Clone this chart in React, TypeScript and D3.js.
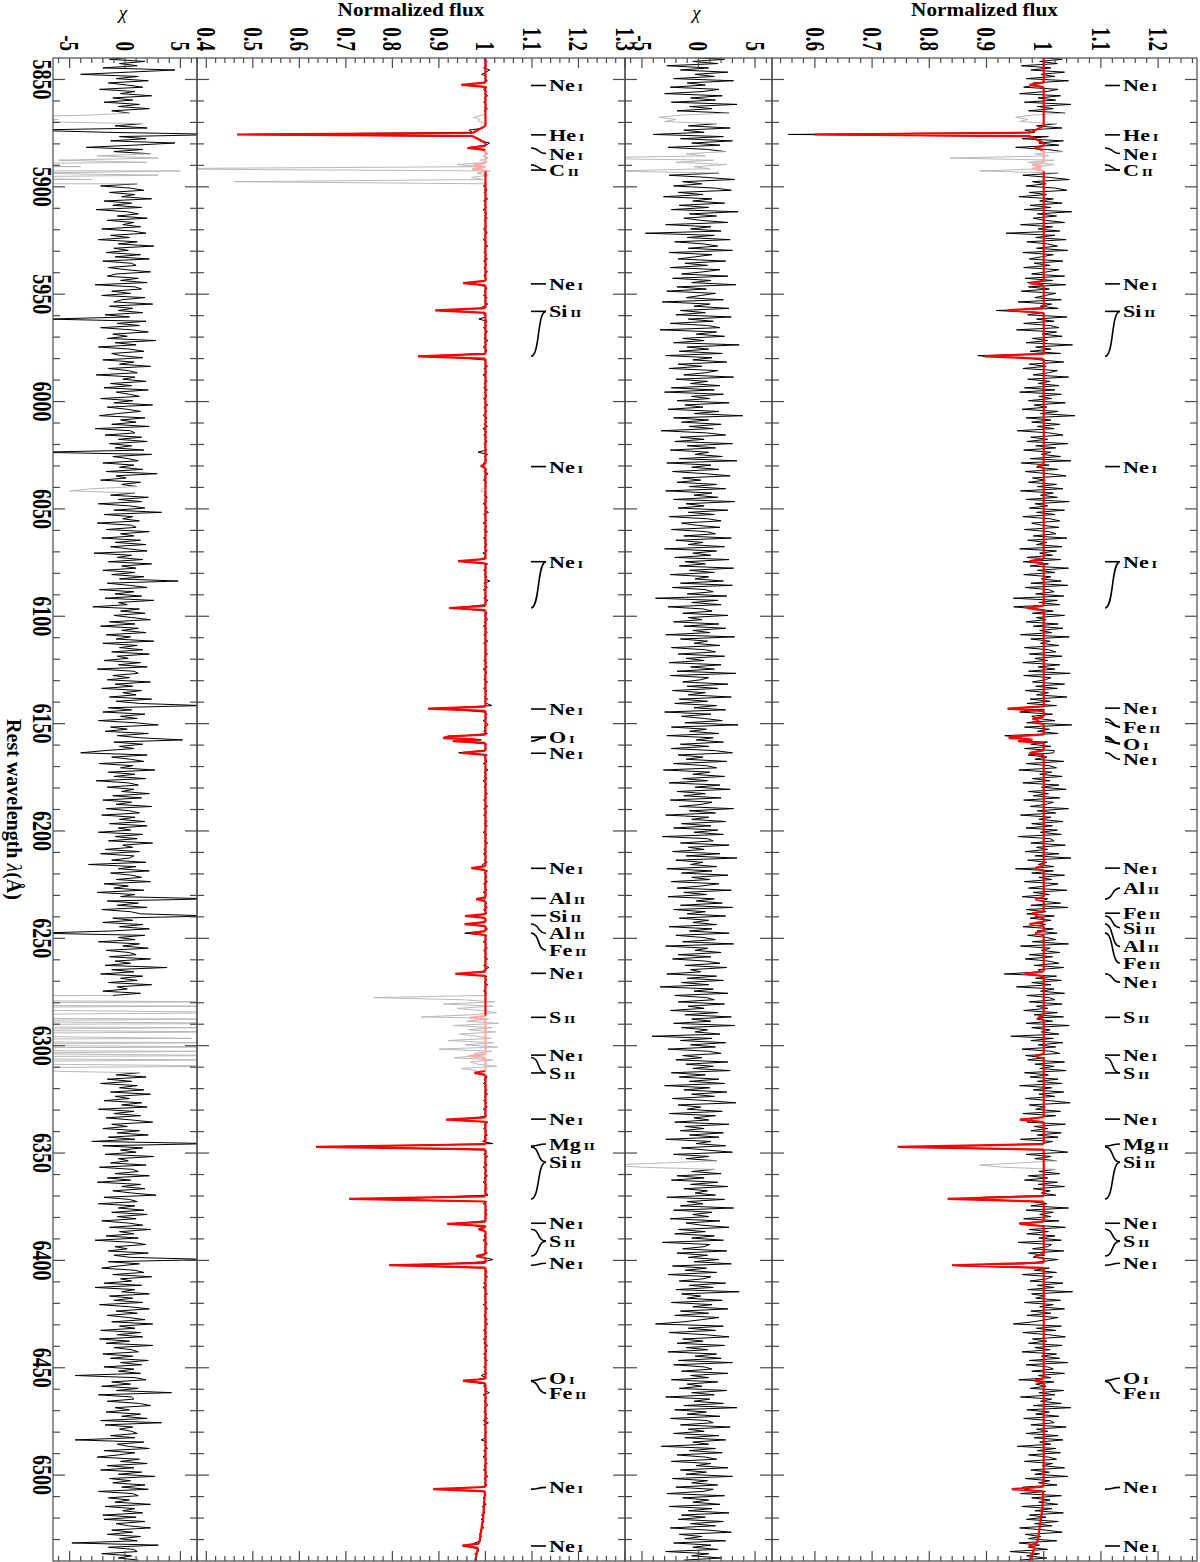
import * as d3 from 'd3';
import { useRef, useEffect } from 'react';

// residual samples (chi) on a regular 1 Å wavelength grid
const gridStart = 5839.6;
const gridStep = 1;

const chiStar1 = [
  0.6, -1.4, 1.8, -0.5, 1.1, -2.0, 4.5, 0.3, -4.0, 1.2, -0.8, 2.1, -1.5, 0.2, 1.6, -2.3, 0.9, -0.4, 2.4, -1.1,
  0.7, -1.9, 1.3, -0.6, 2.2, -1.2, 0.4, -3.0, -13, -6, -8, 1.5, -0.9, 2.0, -9, -1.7, 9, -0.5, 1.9, -1.3,
  4.5, 0.8, -3.5, 1.6, -1.0, 2.3, -2.5, 3.0, -6, 2.0, -20, -4, -371, 5, -9, 3, -15, -3, -270, 1.1,
  -2.2, 0.5, 1.7, -1.4, 0.9, -0.3, 2.4, -1.9, 0.6, -1.1, 1.5, -2.6, 0.2, 1.2, -0.7, 2.0, -1.6, 0.8, -0.2, 1.4,
  -2.1, 0.7, 1.9, -1.3, 0.4, -2.4, 1.1, -0.6, 2.6, -1.0, 0.3, -1.7, 1.4, -0.9, 2.2, -2.0, 0.6, 1.0, -1.5, 0.1,
  2.3, -0.8, -1.6, 1.2, -0.4, 2.0, -2.7, 0.9, 1.5, -1.2, 0.5, -2.1, 1.8, -0.3, -1.0, 2.5, -1.4, 0.7, -0.6, 1.6,
  -1.8, 0.4, -7.0, 1.9, -0.7, 1.3, -2.2, 0.6, 2.1, -1.1, 0.2, -1.6, 2.8, -0.9, 1.0, -2.4, 0.5, 1.7, -1.2, -0.4,
  1.6, -2.0, 0.8, -0.5, 2.3, -1.5, 0.3, 1.1, -2.6, 0.9, -0.2, 1.9, -1.3, 0.6, -1.9, 2.1, -0.8, 0.4, 1.3, -2.2,
  0.7, -1.0, 2.5, -1.6, 0.2, 1.4, -0.7, -2.3, 1.8, -0.4, 1.0, -1.2, 2.2, -2.7, 0.5, 0.9, -1.8, 1.5, -0.6, 2.0,
  -1.4, 0.6, -0.9, 1.7, -8.0, 2.4, -1.1, 0.3, 1.2, -2.0, 0.8, -0.5, 1.6, -1.7, 2.9, -0.8, 0.1, -2.2, 1.4, -0.3,
  1.1, -3.0, -5.0, 0.9, -1.3, 2.1, -0.6, 1.5, -2.4, 0.4, 1.8, -1.0, 3.3, -1.9, 0.7, -0.2, 1.3, -2.5, 0.6, 1.0,
  -1.7, 2.2, -0.4, 0.8, -2.1, 1.4, -0.9, 1.9, -1.3, 0.3, 2.0, -2.8, 0.6, -0.7, 1.6, -1.5, 2.4, -0.3, 1.0, -2.0,
  0.9, -1.2, 1.7, -0.5, 4.8, -1.6, 0.4, 2.0, -2.3, 0.8, -0.9, 1.5, -1.8, 2.6, -0.6, 0.2, -2.9, 1.3, -0.4, 1.8,
  -1.0, 0.6, 2.3, -1.4, 0.9, -2.2, 1.2, -0.3, 1.9, -1.7, 0.5, -0.8, 2.6, -2.0, 1.1, -0.5, 1.6, -1.2, 2.2, -0.7,
  0.3, -1.9, 1.4, -0.6, 2.0, -2.5, 0.8, 1.2, -1.1, 0.4, -1.6, 2.3, -0.9, 0.7, -2.1, 1.5, -0.2, 1.0, -1.4, 2.4,
  -0.8, 1.3, 7.0, -1.5, 0.6, -2.0, 1.8, -0.4, 1.1, -2.4, 0.9, 3.0, -1.3, 0.2, -1.8, 2.1, -0.7, 1.4, 5.2, -1.0,
  1.6, -0.5, 0.8, -1.9, -4.0, 2.0, -1.2, 0.5, 1.7, -2.3, 0.7, -0.4, 2.7, -1.5, 0.9, -1.0, 1.9, -2.6, 0.3, 1.2,
  -1.6, 0.8, -0.3, 2.2, -1.1, 1.5, -2.0, 0.6, -0.8, 2.4, -1.7, 0.4, 1.3, -2.1, 0.9, -0.5, 1.8, -1.4, 2.0, -0.6,
  0.5, -2.4, 1.6, -0.9, 1.1, -1.5, 2.5, -0.2, 0.7, -1.8, 1.3, -2.2, 0.8, 0.4, -1.2, 1.9, -3.3, 1.0, -0.6, 2.2,
  -1.3, 0.6, 1.5, -0.8, 2.3, -1.9, 0.3, -1.0, 1.7, -2.5, 0.9, -0.4, 8.0, -1.6, 1.2, -0.7, 2.0, -2.1, 0.5, 1.4,
  8.0, -1.1, 0.7, -2.0, 1.6, -0.5, 2.2, -1.3, -8.0, 1.8, -0.6, 0.9, -2.4, 1.3, -0.2, 2.1, -1.7, 0.4, 1.0, -1.4,
  2.3, -0.9, 0.5, -1.8, 3.8, -1.2, 0.8, -2.2, 1.6, -0.4, 1.1, -1.5, 2.4, -0.7, 0.2, -2.0, 1.4, -1.1, -120, -25,
  10, -45, 8, -30, -6, 12, -15, -60, 9, -20, 14, -35, 7, -18, 11, -28, -10, 6, -40, 9,
  -22, 13, -50, 7, -12, 10, -32, 8, -16, -8, 12, -26, -10, 1.3, -0.8, 1.9, -1.6, 0.6, -2.2, 1.1,
  -0.5, 1.7, -1.3, 2.3, -0.9, 0.4, -1.9, 1.5, -0.3, 2.0, -2.4, 0.8, -1.0, 1.4, -1.7, 0.6, 2.5, -1.2, 0.2, -2.0,
  1.3, -0.7, 2.1, -1.5, 0.9, -3.0, 8.0, -2.0, 1.6, -0.4, 1.0, -1.8, 2.6, -0.6, 0.3, -1.3, 1.9, -2.3, 0.7, 1.2,
  -0.9, 2.2, -1.6, 0.5, -2.5, 1.4, -0.3, 1.8, -1.1, 0.6, 2.8, -1.9, 0.4, 1.1, -2.4, 0.9, -0.6, 1.7, -1.2, 2.0,
  -0.7, 1.0, -2.1, 0.3, 1.6, -1.4, 2.3, -0.5, 0.8, -1.7, 1.2, -2.7, 0.6, 1.9, -0.9, 0.2, -1.5, 2.1, -1.0, 0.5,
  8.0, -1.5, 1.3, -0.6, -2.1, 0.9, 1.7, -1.1, 2.4, -0.4, 0.6, -1.9, 1.5, -2.7, 0.9, -0.3, 2.2, -1.4, 0.7, -1.0,
  1.6, -2.3, 0.4, 2.2, -0.8, 1.1, -1.6, 0.3, 1.8, -1.2, 2.5, -0.5, 0.9, -2.2, 1.4, -0.7, 1.6, -2.3, 0.4, -1.7,
  2.5, -1.0, 0.6, 1.2, -2.0, 0.7, -1.3, 2.1, -0.4, 1.5, -1.9, 0.8, -0.6, 1.4, -4.5, 0.9, 1.9, -1.2, 0.5, -2.1,
  1.2, -0.8, 4.2, -2.4, 0.6, 0.8, -1.6, 1.3, 2.3, -0.9, 0.4, -1.7, 1.4, -0.3, 2.0, -2.2, 3.3, -1.8, 0.7, -0.5,
  0.6, 1.1, -1.3, 0.9, -4.5, 1.7, -0.7, 0.3, 2.2, -1.9, 0.9, -0.6, -2.5, 1.3, -0.4, 2.0, -1.6, 0.8, -2.2, 1.5,
  -0.6, 2.7, -1.4, 0.5, -1.1, 1.8, -0.3, 2.1, -2.4, 0.7, 1.2, -1.5, 0.4, -0.9, 2.3, -1.8, 0.9, -0.2, 1.6, -2.0,
  1.0, -1.9, 1.8, -0.8, 0.3, 2.3, -1.2, 0.7, -1.6, 1.4, -0.5, 1.1, -4.8, 3.0, -1.5, 0.8, 1.1, -2.1, 0.6, -0.6,
  1.2,
];

const chiStar2 = [
  -1.2, 2.3, -0.5, 1.7, -2.8, 0.9, -1.6, 2.6, -0.3, 1.4, -2.2, 3.1, -1.0, 0.6, -2.5, 1.8, 0.4, -3.0, 2.1, -0.7,
  1.5, -2.4, 3.4, -0.8, 1.2, -1.9, 2.7, -1.5, -3.5, -2.0, -3.0, 1.6, -0.9, 2.8, -1.3, 0.5, -4.0, 2.2, -1.6, 3.0,
  -0.6, 1.9, -2.7, 0.8, 2.4, -1.1, 0.6, -11.7, 1.3, -2.0, 2.5, -0.4, 1.0, -8.0, 1.8, -2.6, 0.7, 3.2, -1.4, 0.3,
  -2.2, 1.5, 2.9, -1.8, 0.4, -3.1, 1.2, -0.5, 2.3, -1.7, 0.9, -2.4, 3.5, -0.8, 1.6, -1.3, 0.2, 2.6, -2.9, 1.1,
  -0.7, 2.0, -4.7, 1.4, -1.0, 2.8, -2.1, 0.5, 1.7, -0.9, 3.0, -2.6, 1.2, -0.3, -1.8, 2.4, -1.2, 0.8, -2.5, 1.9,
  0.4, -1.5, 2.6, -2.3, 1.1, -0.6, 3.3, -1.9, 0.7, -2.8, 1.5, 0.2, -1.1, 2.2, -3.2, 1.0, -0.4, 2.7, -1.6, 0.6,
  -2.0, 2.9, -0.9, 1.3, -2.5, 0.8, 1.9, -3.4, 1.6, -0.2, 2.3, -1.4, 0.5, -2.2, 3.6, -1.0, 0.9, -1.7, 2.1, -2.9,
  1.2, -0.5, 2.5, -1.8, 0.3, -2.6, 1.7, 0.6, -1.3, 3.1, -2.0, 0.8, -0.7, 1.9, -2.4, 1.4, -3.0, 2.2, -0.6, 1.0,
  -1.9, 2.7, -1.2, 0.4, -2.7, 1.8, -0.4, 3.9, -2.2, 0.9, -1.5, 2.0, -0.8, 1.3, -3.3, 0.7, 2.4, -1.6, 0.5, -2.1,
  3.0, -1.0, 1.5, -2.5, 0.9, -0.3, 2.1, -1.7, 3.4, -2.8, 1.1, -0.6, 1.8, -2.3, 0.6, 2.8, -1.4, 0.2, -1.9, 1.6,
  -0.8, 2.4, -2.9, 1.2, -0.4, 1.7, -2.2, 3.2, -1.1, 0.5, -1.8, 2.6, -0.9, 1.4, -2.6, 0.8, 2.0, -1.5, -0.2, 1.9,
  -2.4, 0.7, 1.5, -1.3, 2.9, -2.0, 0.4, -0.9, 2.3, -3.0, 1.6, -0.5, 1.1, -2.1, 2.7, -1.2, 0.6, -1.7, 3.1, -0.8,
  1.4, -2.5, 0.9, -0.3, 2.2, -1.6, 3.0, -2.3, 0.6, 1.3, -1.0, 2.5, -3.8, 1.7, -0.6, 2.0, -2.7, 0.4, 1.2, -1.4,
  2.6, -0.9, 0.3, -2.2, 1.8, -1.3, 2.4, -0.5, 1.0, -2.9, 3.2, -1.6, 0.8, -0.4, 1.9, -2.4, 0.6, 1.5, -1.8, 2.3,
  -1.1, 0.5, -2.6, 2.0, -0.7, 1.4, -1.9, 3.3, -2.5, 0.9, 0.2, -1.4, 2.6, -1.0, 1.7, -2.3, 0.6, -0.9, 2.9, -1.7,
  0.8, -2.1, 1.6, -0.4, 2.4, -3.0, 1.1, -1.5, 0.5, 2.1, -1.2, 3.5, -2.4, 0.7, -0.8, 1.8, -2.8, 1.3, -0.2, 2.2,
  -1.6, 0.9, -2.4, 1.5, 3.0, -1.8, 0.4, -1.1, 2.5, -2.2, 0.7, 1.6, -3.1, 1.0, -0.5, 2.3, -1.4, 0.8, -2.6, 1.9,
  -0.3, 2.8, -1.9, 0.6, -1.3, 2.0, -2.5, 1.2, 0.3, -1.7, 3.1, -0.8, 1.5, -2.9, 0.9, -0.6, 2.4, -1.5, 1.1, -2.2,
  1.7, -0.4, 2.2, -3.2, 0.8, 1.3, -1.6, 2.7, -0.9, 0.5, -2.3, 1.9, -1.1, 3.4, -2.0, 0.4, -0.7, 1.6, -2.8, 1.2,
  -1.5, 2.6, -0.6, 1.0, -2.4, 1.8, 0.3, -1.9, 2.9, -1.3, 0.7, -2.7, 1.4, -0.2, 2.1, -1.6, 3.0, -2.2, 0.6, -1.0,
  2.4, -1.7, 0.9, -0.5, 1.6, -2.6, 1.2, -0.8, 2.7, -2.0, 0.4, 1.5, -1.4, 3.1, -2.9, 0.8, -0.3, 2.0, -1.8, 1.1,
  -2.3, 0.6, 1.9, -1.2, 2.5, -0.7, 0.2, -2.8, 1.6, -1.0, 2.2, -1.5, 0.9, -3.4, 1.3, -0.4, 2.6, -2.1, 0.7, 1.4,
  -1.8, 2.3, -0.9, 0.5, -2.5, 1.7, -1.2, 2.9, -0.6, 1.1, -2.2, 3.2, -1.5, 0.8, -0.3, 1.9, -4.1, 1.2, -1.6, 2.4,
  -0.7, 1.5, -2.7, 0.9, 2.0, -1.4, 0.3, -2.0, 2.6, -1.1, 1.3, -0.5, 2.8, -2.4, 0.6, -1.7, 1.8, -0.8, 2.3, -3.0,
  1.0, -1.3, 2.5, -0.6, 1.4, -2.3, 0.8, 3.3, -1.8, 0.2, -1.0, 2.1, -2.6, 1.5, -0.4, 0.9, -2.1, 2.7, -1.2, 0.5,
  -1.6, 2.2, -0.8, 1.8, -2.9, 1.1, -0.2, 2.4, -1.5, 0.7, 3.0, -2.2, 0.9, -1.1, 1.6, -3.0, -8.0, -5.0, 1.4, -0.6,
  2.0, -1.9, 0.5, -2.4, 1.7, -0.7, 2.6, -1.3, 0.8, -0.3, 1.5, -2.8, 2.3, -1.0, 0.4, -1.6, 3.1, -2.2, 1.2, -0.5,
  0.9, -2.5, 1.9, -1.1, 0.3, 2.7, -1.8, 0.6, -2.1, 1.4, -0.6, 2.2, -3.2, 1.0, 0.5, -1.4, 2.5, -1.9, 0.8, -0.9,
  1.8, -0.4, 2.9, -2.3, 0.7, -1.2, 1.6, -2.7, 1.1, 0.4, -1.7, 2.4, -0.8, 1.3, -2.0, 3.6, -1.5, 0.2, -1.0, 2.1,
  -2.4, 1.2, -0.5, 2.6, -1.6, 0.9, -2.1, 1.8, 0.3, -1.3, -3.8, 2.2, -0.9, 1.5, -2.6, 0.6, 2.7, -1.4, 0.4, -1.9,
  2.3, -1.1, 0.8, -2.7, 1.6, -0.3, 2.0, -1.8, 3.0, -2.2, 0.5, 1.2, -1.5, 2.6, -0.7, 0.9, -2.4, 1.7, -1.0, 0.3,
  -1.7, 2.5, -0.6, 1.4, -2.9, 1.0, -0.4, 2.2, -1.3, 3.4, -2.1, 0.7, -1.0, 1.9, -2.5, 0.8, 1.3, -1.6, 2.8, -0.9,
  0.5, -2.2, 1.8, -1.2, 2.4, -0.5, 0.9, -3.3, 1.5, -0.8, 2.1, -1.9, 0.6, 1.6, -2.4, 1.1, -0.2, 2.6, -1.6, 0.7,
  -1.1, 3.0, -2.3, 0.8, -0.6, 1.7, -2.0, 1.3, 0.4, -2.8, 2.3, -1.4, 0.9, -0.5, 1.9, -2.6, 1.2, -0.9, 2.7, -1.5,
  0.6, -1.8, 2.2, -0.7, 1.5, -2.5, 0.8, 2.9, -1.7, 0.3, -1.2, 2.4, -2.2, 1.1, -0.5, 1.7, -2.9, 0.9, -0.6, 2.0,
  -1.3,
];

const sigmaStar1 = 0.002;
const sigmaStar2 = 0.014;

// model absorption lines: [wavelength, depth below continuum, half width (Å)]
const modelLines1 = [
  [5852.49, 0.052, 1.0], [5875.62, 0.5, 0.7], [5875.62, 0.034, 4.0], [5881.9, 0.039, 0.9],
  [5889.78, 0.026, 0.9], [5891.6, 0.028, 0.9], [5944.83, 0.048, 1.0], [5957.56, 0.108, 1.1],
  [5978.93, 0.145, 1.1], [6030.0, 0.01, 0.9], [6074.34, 0.059, 1.0], [6096.16, 0.078, 1.0],
  [6143.06, 0.123, 1.0], [6155.98, 0.08, 0.8], [6156.77, 0.09, 0.8], [6158.18, 0.07, 0.8],
  [6163.59, 0.05, 1.0], [6217.28, 0.03, 0.9], [6231.75, 0.02, 0.9], [6239.6, 0.044, 0.9],
  [6243.36, 0.045, 0.9], [6247.56, 0.03, 0.9], [6266.49, 0.065, 1.0], [6287.0, 0.033, 0.9],
  [6304.79, 0.037, 0.9], [6312.68, 0.024, 0.9], [6334.43, 0.085, 1.0], [6347.11, 0.364, 1.2],
  [6371.37, 0.293, 1.2], [6382.99, 0.082, 1.0], [6385.46, 0.015, 0.9], [6397.98, 0.02, 0.9],
  [6402.25, 0.207, 1.1], [6455.98, 0.037, 0.9], [6456.38, 0.02, 0.9], [6506.53, 0.112, 1.0],
  [6532.88, 0.035, 1.0],
];

const modelLines2 = [
  [5852.49, 0.025, 1.1], [5875.62, 0.37, 0.8], [5875.62, 0.03, 4.0], [5881.9, 0.016, 1.0],
  [5889.78, 0.02, 1.0], [5891.6, 0.02, 1.0], [5944.83, 0.025, 1.1], [5957.56, 0.063, 1.2],
  [5978.93, 0.103, 1.2], [6030.0, 0.01, 1.0], [6074.34, 0.025, 1.1], [6096.16, 0.03, 1.1],
  [6143.06, 0.063, 1.1], [6147.74, 0.02, 1.0], [6149.25, 0.02, 1.0], [6155.98, 0.05, 0.9],
  [6156.77, 0.055, 0.9], [6158.18, 0.045, 0.9], [6163.59, 0.025, 1.1], [6217.28, 0.015, 1.0],
  [6231.75, 0.015, 1.0], [6238.38, 0.02, 1.0], [6239.6, 0.015, 1.0], [6243.36, 0.025, 1.0],
  [6247.56, 0.015, 1.0], [6266.49, 0.033, 1.1], [6287.0, 0.01, 1.0], [6304.79, 0.015, 1.0],
  [6334.43, 0.042, 1.1], [6347.11, 0.255, 1.3], [6371.37, 0.168, 1.3], [6382.99, 0.042, 1.1],
  [6397.98, 0.015, 1.0], [6402.25, 0.16, 1.2], [6455.98, 0.016, 1.0], [6506.53, 0.055, 1.1],
  [6532.88, 0.012, 1.1],
];

// continuum knots [wavelength, flux]
const continuum1 = [[5840, 1], [6505, 1], [6520, 0.995], [6530, 0.988], [6540, 0.978]];
const continuum2 = [[5840, 1], [6500, 1], [6515, 0.998], [6530, 0.99], [6540, 0.975]];

// masked (grey) wavelength ranges
const masks1 = [[5866.5, 5870.5], [5885, 5898.5], [6040.5, 6042.5], [6277, 6312]];
const masks2 = [[5866.5, 5870.5], [5884, 5893.5], [6354.5, 6357]];

// line identifications: [element, ion, line wavelengths, label position]
const labels1 = [
  ['Ne', 'I', [5852.49], 5852.8], ['He', 'I', [5875.62], 5875.8], ['Ne', 'I', [5881.9], 5884.5],
  ['C', 'II', [5889.78, 5891.6], 5892.2], ['Ne', 'I', [5944.83], 5945.2], ['Si', 'II', [5957.56, 5978.93], 5958.0],
  ['Ne', 'I', [6030.0], 6030.3], ['Ne', 'I', [6074.34, 6096.16], 6074.6], ['Ne', 'I', [6143.06], 6143.2],
  ['O', 'I', [6155.98, 6156.77, 6158.18], 6156.4], ['Ne', 'I', [6163.59], 6163.8], ['Ne', 'I', [6217.28], 6217.4],
  ['Al', 'II', [6231.75], 6231.4], ['Si', 'II', [6239.6], 6239.4], ['Al', 'II', [6243.36], 6247.6],
  ['Fe', 'II', [6247.56], 6255.5], ['Ne', 'I', [6266.49], 6266.3], ['S', 'II', [6287.0], 6286.8],
  ['Ne', 'I', [6304.79], 6304.4], ['S', 'II', [6305.48, 6312.68], 6312.7], ['Ne', 'I', [6334.43], 6334.2],
  ['Mg', 'II', [6346.7], 6345.8], ['Si', 'II', [6347.11, 6371.37], 6354.3], ['Ne', 'I', [6382.99], 6382.7],
  ['S', 'II', [6385.46, 6397.98], 6391.0], ['Ne', 'I', [6402.25], 6401.3], ['O', 'I', [6455.98], 6454.9],
  ['Fe', 'II', [6456.38], 6461.8], ['Ne', 'I', [6506.53], 6505.7], ['Ne', 'I', [6532.88], 6533.0],
];

const labels2 = [
  ['Ne', 'I', [5852.49], 5852.8], ['He', 'I', [5875.62], 5875.8], ['Ne', 'I', [5881.9], 5884.5],
  ['C', 'II', [5889.78, 5891.6], 5892.2], ['Ne', 'I', [5944.83], 5945.2], ['Si', 'II', [5957.56, 5978.93], 5958.0],
  ['Ne', 'I', [6030.0], 6030.3], ['Ne', 'I', [6074.34, 6096.16], 6074.6], ['Ne', 'I', [6143.06], 6142.8],
  ['Fe', 'II', [6147.74, 6149.25], 6151.5], ['O', 'I', [6155.98, 6156.77, 6158.18], 6159.3],
  ['Ne', 'I', [6163.59], 6166.6], ['Ne', 'I', [6217.28], 6217.3], ['Al', 'II', [6231.75], 6226.6],
  ['Fe', 'II', [6238.38], 6238.3], ['Si', 'II', [6239.6], 6245.0], ['Al', 'II', [6243.36], 6253.8],
  ['Fe', 'II', [6247.56], 6261.5], ['Ne', 'I', [6266.49], 6270.4], ['S', 'II', [6287.0], 6286.8],
  ['Ne', 'I', [6304.79], 6304.4], ['S', 'II', [6305.48, 6312.68], 6312.7], ['Ne', 'I', [6334.43], 6334.2],
  ['Mg', 'II', [6346.7], 6345.8], ['Si', 'II', [6347.11, 6371.37], 6354.3], ['Ne', 'I', [6382.99], 6382.7],
  ['S', 'II', [6385.46, 6397.98], 6391.0], ['Ne', 'I', [6402.25], 6401.3], ['O', 'I', [6455.98], 6454.9],
  ['Fe', 'II', [6456.38], 6461.8], ['Ne', 'I', [6506.53], 6505.7], ['Ne', 'I', [6532.88], 6533.0],
];

const waveTicks = [5850, 5900, 5950, 6000, 6050, 6100, 6150, 6200, 6250, 6300, 6350, 6400, 6450, 6500];
const chiTicks = [-5, 0, 5];
const fluxTicks1 = [0.4, 0.5, 0.6, 0.7, 0.8, 0.9, 1, 1.1, 1.2, 1.3];
const fluxTicks2 = [0.6, 0.7, 0.8, 0.9, 1, 1.1, 1.2];

const FONT = "'Liberation Serif', 'Times New Roman', serif";

function App() {
  const svgRef = useRef(null);

  useEffect(() => {
    const svg = d3.select(svgRef.current);
    svg.selectAll('*').remove();

    const Y0 = 58;
    const Y1 = 1561;
    const y = d3.scaleLinear().domain([5840, 6540]).range([Y0, Y1]);

    const panels = [
      { x: d3.scaleLinear().domain([-6.5, 6.5]).range([53, 197]), kind: 'chi', ticks: chiTicks, title: 'χ' },
      { x: d3.scaleLinear().domain([0.38, 1.30]).range([197, 625]), kind: 'flux', ticks: fluxTicks1, title: 'Normalized flux' },
      { x: d3.scaleLinear().domain([-6.5, 6.5]).range([625, 772]), kind: 'chi', ticks: chiTicks, title: 'χ' },
      { x: d3.scaleLinear().domain([0.525, 1.268]).range([772, 1197]), kind: 'flux', ticks: fluxTicks2, title: 'Normalized flux' },
    ];

    const defs = svg.append('defs');
    panels.forEach((p, i) => {
      const [a, b] = p.x.range();
      defs.append('clipPath').attr('id', `clip${i}`)
        .append('rect').attr('x', a).attr('y', Y0).attr('width', b - a).attr('height', Y1 - Y0);
    });

    const stars = [
      { chi: chiStar1, sigma: sigmaStar1, lines: modelLines1, cont: continuum1, masks: masks1, labels: labels1, chiP: 0, fluxP: 1, lx: 531 },
      { chi: chiStar2, sigma: sigmaStar2, lines: modelLines2, cont: continuum2, masks: masks2, labels: labels2, chiP: 2, fluxP: 3, lx: 1105 },
    ];

    const segPaths = (pts, xs, inMask, byMid) => {
      let normal = '';
      let masked = '';
      for (let i = 1; i < pts.length; i++) {
        const p0 = pts[i - 1];
        const p1 = pts[i];
        const seg = `M${xs(p0.v).toFixed(2)},${y(p0.lam).toFixed(2)}L${xs(p1.v).toFixed(2)},${y(p1.lam).toFixed(2)}`;
        const m = byMid ? inMask((p0.lam + p1.lam) / 2) : (inMask(p0.lam) || inMask(p1.lam));
        if (m) masked += seg; else normal += seg;
      }
      return { normal, masked };
    };

    stars.forEach((s) => {
      const contScale = d3.scaleLinear().domain(s.cont.map((d) => d[0])).range(s.cont.map((d) => d[1]));
      const model = (l) => contScale(l) - d3.sum(s.lines, ([c, d, hw]) => d * Math.max(0, 1 - Math.abs(l - c) / hw));
      const inMask = (l) => s.masks.some(([a, b]) => l >= a && l <= b);

      const grid = s.chi.map((v, i) => ({ lam: gridStart + i * gridStep, chi: v }));
      const centers = s.lines.map((l) => l[0])
        .filter((c) => !grid.some((g) => Math.abs(g.lam - c) < 0.3))
        .map((c) => ({ lam: c, chi: 0 }));
      const obs = [...grid, ...centers].sort((a, b) => a.lam - b.lam)
        .map((p) => ({ lam: p.lam, v: model(p.lam) + s.sigma * p.chi }));
      const chiPts = grid.map((g) => ({ lam: g.lam, v: g.chi }));

      const knots = new Set();
      s.cont.forEach((k) => knots.add(k[0]));
      s.lines.forEach(([c, , hw]) => { knots.add(c - hw); knots.add(c); knots.add(c + hw); });
      const modelPts = Array.from(knots).filter((l) => l >= 5840 && l <= 6540)
        .sort((a, b) => a - b).map((l) => ({ lam: l, v: model(l) }));

      // chi panel
      const cp = panels[s.chiP];
      const gc = svg.append('g').attr('clip-path', `url(#clip${s.chiP})`);
      const cpaths = segPaths(chiPts, cp.x, inMask, false);
      gc.append('path').attr('d', cpaths.normal).attr('fill', 'none').attr('stroke', '#000').attr('stroke-width', 1);
      gc.append('path').attr('d', cpaths.masked).attr('fill', 'none').attr('stroke', '#b8b8b8').attr('stroke-width', 1);

      // flux panel
      const fp = panels[s.fluxP];
      const gf = svg.append('g').attr('clip-path', `url(#clip${s.fluxP})`);
      const opaths = segPaths(obs, fp.x, inMask, false);
      gf.append('path').attr('d', opaths.normal).attr('fill', 'none').attr('stroke', '#000').attr('stroke-width', 1);
      gf.append('path').attr('d', opaths.masked).attr('fill', 'none').attr('stroke', '#b8b8b8').attr('stroke-width', 1);
      const mpaths = segPaths(modelPts, fp.x, inMask, true);
      gf.append('path').attr('d', mpaths.normal).attr('fill', 'none').attr('stroke', '#ff0000').attr('stroke-width', 2.2);
      gf.append('path').attr('d', mpaths.masked).attr('fill', 'none').attr('stroke', '#ffaaaa').attr('stroke-width', 2.2);

      // line identifications
      const x0 = s.lx;
      const x1 = s.lx + 15;
      const gl = svg.append('g');
      s.labels.forEach(([el, ion, lams, at]) => {
        const yl = y(at);
        lams.forEach((lam) => {
          const yy = y(lam);
          const d = Math.abs(yy - yl) < 1.5
            ? `M${x0},${yl}L${x1},${yl}`
            : `M${x0},${yy}C${x0 + 9},${yy} ${x1 - 9},${yl} ${x1},${yl}`;
          gl.append('path').attr('d', d).attr('fill', 'none').attr('stroke', '#000').attr('stroke-width', 1.6);
        });
        const t = gl.append('text')
          .attr('transform', `translate(${x1 + 3},${yl + 6}) scale(1.38,1)`)
          .attr('font-family', FONT).attr('font-weight', 'bold').attr('font-size', 16).attr('fill', '#000');
        t.append('tspan').text(el);
        t.append('tspan').attr('font-size', 10.5).attr('dx', 2).text(ion);
      });
    });

    // frames, ticks and tick labels
    const frame = svg.append('g').attr('stroke', '#4a4a4a').attr('stroke-width', 1.2).attr('fill', 'none');
    const minorWaves = d3.range(585, 654).map((i) => i * 10);
    panels.forEach((p) => {
      const [a, b] = p.x.range();
      frame.append('rect').attr('x', a).attr('y', Y0).attr('width', b - a).attr('height', Y1 - Y0);
      minorWaves.forEach((w) => {
        const len = w % 50 === 0 ? 12 : 7;
        frame.append('line').attr('x1', a).attr('x2', a + len).attr('y1', y(w)).attr('y2', y(w));
        frame.append('line').attr('x1', b - len).attr('x2', b).attr('y1', y(w)).attr('y2', y(w));
      });
      const dom = p.x.domain();
      const step = p.kind === 'chi' ? 1 : 0.02;
      const minor = d3.range(Math.ceil(dom[0] / step - 1e-6), Math.floor(dom[1] / step + 1e-6) + 1).map((i) => i * step);
      minor.forEach((v) => {
        const major = p.kind === 'chi' ? v % 5 === 0 : Math.abs(v * 10 - Math.round(v * 10)) < 1e-6;
        const len = major ? 10 : 5;
        const xv = p.x(v);
        frame.append('line').attr('x1', xv).attr('x2', xv).attr('y1', Y0).attr('y2', Y0 + len);
        frame.append('line').attr('x1', xv).attr('x2', xv).attr('y1', Y1 - len).attr('y2', Y1);
      });
      p.ticks.forEach((v) => {
        svg.append('text')
          .attr('transform', `translate(${p.x(v)},51) rotate(90) scale(1,1.4)`)
          .attr('text-anchor', 'end').attr('dominant-baseline', 'central')
          .attr('font-family', FONT).attr('font-weight', 'bold').attr('font-size', 19)
          .text(String(+v.toFixed(1)));
      });
      const cx = (a + b) / 2;
      if (p.kind === 'chi') {
        svg.append('text').attr('x', cx - 2).attr('y', 19).attr('text-anchor', 'middle')
          .attr('font-family', FONT).attr('font-style', 'italic').attr('font-size', 19).text(p.title);
      } else {
        svg.append('text').attr('transform', `translate(${cx},16) scale(1.18,1)`).attr('text-anchor', 'middle')
          .attr('font-family', FONT).attr('font-weight', 'bold').attr('font-size', 18).text(p.title);
      }
    });

    waveTicks.forEach((w) => {
      svg.append('text')
        .attr('transform', `translate(43,${y(w)}) rotate(90) scale(1,1.4)`)
        .attr('text-anchor', 'middle').attr('dominant-baseline', 'central')
        .attr('font-family', FONT).attr('font-weight', 'bold').attr('font-size', 20)
        .text(w);
    });

    const at = svg.append('text')
      .attr('transform', `translate(14,${(Y0 + Y1) / 2}) rotate(90)`)
      .attr('text-anchor', 'middle').attr('dominant-baseline', 'central')
      .attr('font-family', FONT).attr('font-weight', 'bold').attr('font-size', 20);
    at.append('tspan').text('Rest wavelength ');
    at.append('tspan').attr('font-weight', 'normal').attr('font-style', 'italic').text('λ');
    at.append('tspan').text('(Å)');
  }, []);

  return (
    <svg ref={svgRef} width={1200} height={1562}
      style={{ position: 'absolute', left: 0, top: 0, background: '#fff', display: 'block' }} />
  );
}

export default App;
